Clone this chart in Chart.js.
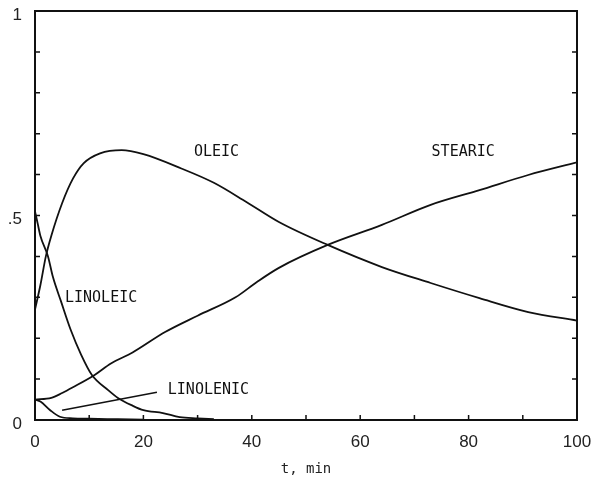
<!DOCTYPE html>
<html>
<head>
<meta charset="utf-8">
<script src="https://cdn.jsdelivr.net/npm/chart.js@4.4.1/dist/chart.umd.min.js"></script>
<style>
  html, body { margin: 0; padding: 0; background: #fff; }
  #wrap { width: 595px; height: 482px; position: relative; }
</style>
</head>
<body>
<div id="wrap"><canvas id="fig"></canvas></div>
<script>
// curve data (t in min, mole fraction)
var oleicT     = [0, 1, 2, 3, 5, 7, 9, 12, 16, 20, 27, 33, 39, 45, 54, 64, 73, 82, 91, 100];
var oleicY     = [0.27, 0.33, 0.40, 0.45, 0.53, 0.59, 0.628, 0.652, 0.66, 0.65, 0.615, 0.58, 0.533, 0.484, 0.428, 0.374, 0.335, 0.298, 0.264, 0.243];
var stearicT   = [0, 3, 5, 7, 11, 14, 18, 24, 30, 37, 41, 45, 54, 64, 73, 82, 91, 100];
var stearicY   = [0.05, 0.054, 0.066, 0.08, 0.11, 0.138, 0.165, 0.215, 0.255, 0.30, 0.338, 0.372, 0.428, 0.477, 0.526, 0.562, 0.599, 0.63];
var linoleicT  = [0, 0.5, 1, 2.4, 3.3, 4.8, 6.6, 8.5, 10.5, 13.5, 15.3, 18, 20, 23.6, 26.7, 30, 33];
var linoleicY  = [0.51, 0.48, 0.45, 0.40, 0.35, 0.29, 0.22, 0.16, 0.11, 0.073, 0.054, 0.035, 0.024, 0.017, 0.007, 0.004, 0.002];
var linolenicT = [0, 1, 2.8, 4.6, 7, 10, 15, 20];
var linolenicY = [0.05, 0.045, 0.024, 0.008, 0.004, 0.003, 0.002, 0.001];

var xTicks = [0, 20, 40, 60, 80, 100];
var yTickLabels = { '0': '0', '0.5': '.5', '1': '1' };

// curve names placed on the plot (data units)
var curveLabels = [
  { text: 'OLEIC',     x: 33.5, y: 0.656 },
  { text: 'STEARIC',   x: 79,   y: 0.656 },
  { text: 'LINOLEIC',  x: 12.2, y: 0.298 },
  { text: 'LINOLENIC', x: 32,   y: 0.072 }
];
var pointerT = [5, 22.5];
var pointerY = [0.024, 0.068];

function pts(t, y) {
  return t.map(function (v, i) { return { x: v, y: y[i] }; });
}

function series(t, y) {
  return {
    data: pts(t, y),
    borderColor: '#111',
    borderWidth: 1.8,
    pointRadius: 0,
    fill: false,
    cubicInterpolationMode: 'monotone'
  };
}

// frame, inward tick marks and curve labels
var decorations = {
  id: 'decorations',
  afterDatasetsDraw: function (chart) {
    var ctx = chart.ctx, a = chart.chartArea;
    var xs = chart.scales.x, ys = chart.scales.y;
    ctx.save();
    ctx.strokeStyle = '#111';
    ctx.lineWidth = 2;
    ctx.strokeRect(a.left, a.top, a.right - a.left, a.bottom - a.top);
    ctx.lineWidth = 1.5;
    ctx.beginPath();
    for (var t = 10; t < 100; t += 10) {
      var px = xs.getPixelForValue(t);
      ctx.moveTo(px, a.bottom); ctx.lineTo(px, a.bottom - 5);
    }
    for (var v = 1; v < 10; v++) {
      var py = ys.getPixelForValue(v / 10);
      ctx.moveTo(a.left, py); ctx.lineTo(a.left + 5, py);
      ctx.moveTo(a.right, py); ctx.lineTo(a.right - 5, py);
    }
    ctx.moveTo(xs.getPixelForValue(pointerT[0]), ys.getPixelForValue(pointerY[0]));
    ctx.lineTo(xs.getPixelForValue(pointerT[1]), ys.getPixelForValue(pointerY[1]));
    ctx.stroke();

    ctx.fillStyle = '#111';
    ctx.font = '15px "DejaVu Sans Mono"';
    ctx.textAlign = 'center';
    ctx.textBaseline = 'middle';
    curveLabels.forEach(function (l) {
      ctx.fillText(l.text, xs.getPixelForValue(l.x), ys.getPixelForValue(l.y));
    });
    ctx.restore();
  }
};

new Chart(document.getElementById('fig'), {
  type: 'line',
  data: {
    datasets: [
      series(oleicT, oleicY),
      series(stearicT, stearicY),
      series(linoleicT, linoleicY),
      series(linolenicT, linolenicY)
    ]
  },
  options: {
    responsive: true,
    maintainAspectRatio: false,
    animation: false,
    layout: { padding: { top: 11, right: 18, left: 0, bottom: 0 } },
    plugins: { legend: { display: false }, tooltip: { enabled: false } },
    scales: {
      x: {
        type: 'linear',
        min: 0, max: 100,
        afterBuildTicks: function (s) { s.ticks = xTicks.map(function (v) { return { value: v }; }); },
        afterFit: function (s) { s.height = 62; s.paddingLeft = 0; s.paddingRight = 0; },
        grid: { display: false, drawTicks: false },
        border: { display: false },
        ticks: { color: '#222', font: { family: 'Liberation Sans', size: 17 }, padding: 12, maxRotation: 0 },
        title: {
          display: true, text: 't, min', color: '#222',
          font: { family: 'DejaVu Sans Mono', size: 14 }, padding: { top: 3 }
        }
      },
      y: {
        type: 'linear',
        min: 0, max: 1,
        afterBuildTicks: function (s) {
          s.ticks = Object.keys(yTickLabels).map(function (k) { return { value: Number(k) }; });
        },
        afterFit: function (s) { s.width = 35; s.paddingTop = 0; s.paddingBottom = 0; },
        grid: { display: false, drawTicks: false },
        border: { display: false },
        ticks: {
          color: '#222', font: { family: 'Liberation Sans', size: 17 }, padding: 13, labelOffset: 4,
          callback: function (v) { return yTickLabels[String(v)]; }
        }
      }
    }
  },
  plugins: [decorations]
});
</script>
</body>
</html>
